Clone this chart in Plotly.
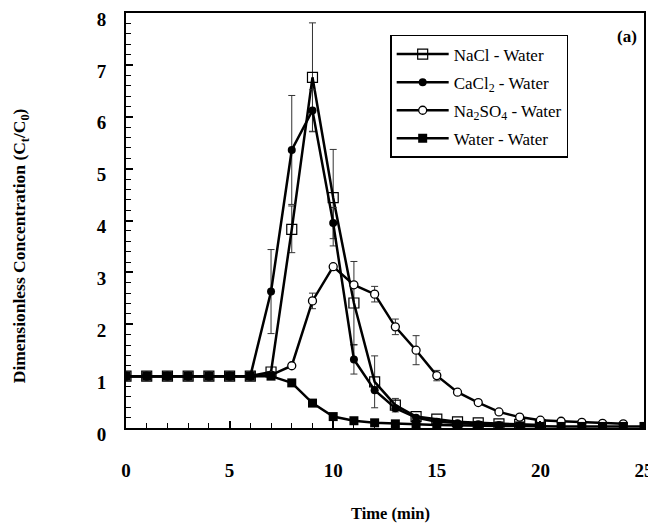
import plotly.graph_objects as go

time = list(range(0, 26))

nacl_x = list(range(0, 21))
nacl = [1.0, 1.0, 1.0, 1.0, 1.0, 1.0, 1.0, 1.08, 3.83, 6.76, 4.44, 2.41, 0.89, 0.44, 0.22, 0.17, 0.12, 0.10, 0.08, 0.07, 0.06]
nacl_err = [None]*8 + [0.45, 1.05, 0.93, 0.80, 0.50, 0.13] + [None]*7

cacl2_x = list(range(0, 21))
cacl2 = [1.0, 1.0, 1.0, 1.0, 1.0, 1.0, 1.0, 2.63, 5.36, 6.12, 3.95, 1.32, 0.73, 0.38, 0.20, 0.12, 0.09, 0.07, 0.06, 0.05, 0.05]
cacl2_err = [None]*7 + [0.81, 1.05, 0.40, 0.30, 0.28] + [None]*9

na2so4_x = list(range(0, 25))
na2so4 = [1.0, 1.0, 1.0, 1.0, 1.0, 1.0, 1.0, 1.02, 1.20, 2.45, 3.11, 2.76, 2.58, 1.95, 1.50, 1.01, 0.69, 0.49, 0.31, 0.21, 0.15, 0.13, 0.11, 0.09, 0.08]
na2so4_err = [None]*9 + [0.15, None, None, 0.15, 0.15, 0.28, 0.10] + [None]*9

water_x = time
water = [1.0, 1.0, 1.0, 1.0, 1.0, 1.0, 1.0, 1.0, 0.87, 0.48, 0.22, 0.14, 0.10, 0.08, 0.07, 0.06, 0.05, 0.05, 0.04, 0.04, 0.03, 0.03, 0.03, 0.03, 0.03, 0.03]

x_ticks = [0, 5, 10, 15, 20, 25]
y_ticks = [0, 1, 2, 3, 4, 5, 6, 7, 8]

SERIF = "Liberation Serif, Times New Roman, serif"

def err(arr):
    return dict(type="data", array=arr, visible=True, color="#333", thickness=1, width=3.5)

fig = go.Figure()
fig.add_trace(go.Scatter(x=nacl_x, y=nacl, name="NaCl - Water", mode="lines+markers", legendgroup="a",
                         line=dict(color="black", width=2.5),
                         marker=dict(symbol="square-open", size=10, color="black", line=dict(width=1.2)),
                         error_y=err(nacl_err)))
fig.add_trace(go.Scatter(x=cacl2_x, y=cacl2, name="CaCl<sub>2</sub> - Water", mode="lines+markers", legendgroup="b",
                         line=dict(color="black", width=2.5),
                         marker=dict(symbol="circle", size=8, color="black"),
                         error_y=err(cacl2_err)))
fig.add_trace(go.Scatter(x=na2so4_x, y=na2so4, name="Na<sub>2</sub>SO<sub>4</sub> - Water", mode="lines+markers", legendgroup="c",
                         line=dict(color="black", width=2.5),
                         marker=dict(symbol="circle", size=8, color="white", line=dict(color="black", width=1.3)),
                         error_y=err(na2so4_err)))
fig.add_trace(go.Scatter(x=water_x, y=water, name="Water - Water", mode="lines+markers", legendgroup="d",
                         line=dict(color="black", width=2.5),
                         marker=dict(symbol="square", size=9, color="black")))

fig.update_layout(
    width=648, height=515,
    margin=dict(l=118, r=12, t=5, b=95, autoexpand=False),
    paper_bgcolor="white", plot_bgcolor="white",
    font=dict(family=SERIF, color="black", size=16),
    showlegend=True,
    legend=dict(x=0.51, y=0.947, xanchor="left", yanchor="top",
                bordercolor="black", borderwidth=1.5, bgcolor="white",
                font=dict(family=SERIF, size=17, color="black"),
                itemwidth=52, tracegroupgap=3),
    annotations=[
        dict(text="<b>(a)</b>", x=0.99, y=0.97, xref="paper", yref="paper",
             xanchor="right", yanchor="top", showarrow=False,
             font=dict(family=SERIF, size=17, color="black")),
        dict(text="<b>Dimensionless Concentration (C<sub>t</sub>/C<sub>0</sub>)</b>",
             x=-0.203, y=0.44, xref="paper", yref="paper", textangle=-90,
             xanchor="center", yanchor="middle", showarrow=False,
             font=dict(family=SERIF, size=17.5, color="black")),
        dict(text="<b>Time (min)</b>",
             x=0.51, y=-0.205, xref="paper", yref="paper",
             xanchor="center", yanchor="middle", showarrow=False,
             font=dict(family=SERIF, size=16.5, color="black")),
    ],
)
fig.update_xaxes(range=[0, 25], tickvals=x_ticks, ticktext=[f"<b>{v}</b>" for v in x_ticks],
                 ticks="inside", ticklen=7, tickwidth=1.5, tickcolor="black",
                 minor=dict(dtick=1, ticks="inside", ticklen=5, tickwidth=1.2, tickcolor="black"),
                 showline=True, linecolor="black", linewidth=2, mirror=True,
                 showgrid=False, zeroline=False, ticklabelstandoff=24, automargin=False,
                 tickfont=dict(family=SERIF, size=19))
fig.update_yaxes(range=[0, 8], tickvals=y_ticks, ticktext=[f"<b>{v}</b>" for v in y_ticks],
                 ticks="inside", ticklen=7, tickwidth=1.5, tickcolor="black",
                 minor=dict(dtick=0.2, ticks="inside", ticklen=5, tickwidth=1.2, tickcolor="black"),
                 showline=True, linecolor="black", linewidth=2, mirror=True,
                 showgrid=False, zeroline=False, ticklabelstandoff=14, ticklabelshift=6,
                 automargin=False, tickfont=dict(family=SERIF, size=19))

fig.write_html("out.html")
